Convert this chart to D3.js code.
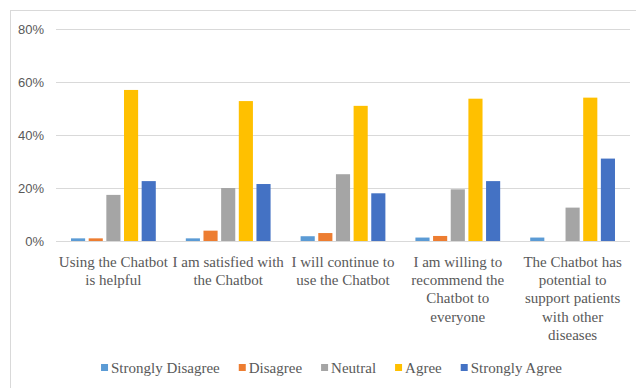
<!DOCTYPE html>
<html lang="en">
<head>
<meta charset="UTF-8">
<title>Chatbot satisfaction</title>
<script src="https://cdn.jsdelivr.net/npm/d3@7/dist/d3.min.js"></script>
<style>
  body { margin: 0; background: #fff; }
  svg { display: block; }
  .tick-y { font: 13px 'Liberation Sans', Arial, sans-serif; fill: #595959; }
  .cat { font: 15px 'Liberation Serif', 'Times New Roman', serif; fill: #595959; }
  .leg { font: 15px 'Liberation Serif', 'Times New Roman', serif; fill: #595959; }
</style>
</head>
<body>
<div id="chart"></div>
<script>
// categories (wrapped as in the original chart)
const categories = [
  ["Using the Chatbot", "is helpful"],
  ["I am satisfied with", "the Chatbot"],
  ["I will continue to", "use the Chatbot"],
  ["I am willing to", "recommend the", "Chatbot to", "everyone"],
  ["The Chatbot has", "potential to", "support patients", "with other", "diseases"]
];
const seriesNames = ["Strongly Disagree", "Disagree", "Neutral", "Agree", "Strongly Agree"];
const seriesColors = ["#5B9BD5", "#ED7D31", "#A5A5A5", "#FFC000", "#4472C4"];

// values per series, one per category
const stronglyDisagree = [0.010, 0.010, 0.018, 0.013, 0.013];
const disagree         = [0.010, 0.039, 0.030, 0.019, 0.000];
const neutral          = [0.174, 0.200, 0.252, 0.195, 0.126];
const agree            = [0.570, 0.528, 0.510, 0.537, 0.541];
const stronglyAgree    = [0.226, 0.215, 0.180, 0.226, 0.311];
const seriesValues = [stronglyDisagree, disagree, neutral, agree, stronglyAgree];

const yTicks = [0, 0.2, 0.4, 0.6, 0.8];

const W = 636, H = 388;
const svg = d3.select("#chart").append("svg").attr("width", W).attr("height", H);

// chart frame
svg.append("rect")
  .attr("x", 10.5).attr("y", 10.5)
  .attr("width", 640).attr("height", 400)
  .attr("fill", "#fff").attr("stroke", "#d9d9d9");

const x0 = d3.scaleBand().domain(d3.range(categories.length)).range([56, 630]);
const x1 = d3.scaleBand().domain(d3.range(seriesNames.length))
  .range([0, x0.bandwidth()]).paddingInner(0.2).paddingOuter(0.85);
const y = d3.scaleLinear().domain([0, 0.8]).range([241, 29]);

// gridlines
svg.append("g").selectAll("line")
  .data(yTicks)
  .join("line")
  .attr("x1", 56).attr("x2", 630)
  .attr("y1", d => Math.round(y(d)) + 0.5).attr("y2", d => Math.round(y(d)) + 0.5)
  .attr("stroke", "#d9d9d9").attr("stroke-width", 1);

svg.append("g").selectAll("text")
  .data(yTicks)
  .join("text")
  .attr("class", "tick-y")
  .attr("x", 44).attr("y", d => y(d))
  .attr("dy", "0.35em")
  .attr("text-anchor", "end")
  .text(d3.format(".0%"));

// bars
const groups = svg.append("g").selectAll("g")
  .data(categories.map((c, i) => i))
  .join("g")
  .attr("transform", i => `translate(${x0(i)},0)`);

groups.selectAll("rect")
  .data(i => seriesValues.map((vals, s) => ({ s, v: vals[i] })))
  .join("rect")
  .attr("x", d => x1(d.s))
  .attr("width", x1.bandwidth())
  .attr("y", d => y(d.v))
  .attr("height", d => y(0) - y(d.v))
  .attr("fill", d => seriesColors[d.s]);

// category labels
const catText = svg.append("g").selectAll("text")
  .data(categories)
  .join("text")
  .attr("class", "cat")
  .attr("text-anchor", "middle")
  .attr("x", (d, i) => x0(i) + x0.bandwidth() / 2)
  .attr("y", 267);
catText.selectAll("tspan")
  .data(d => d)
  .join("tspan")
  .attr("x", function () { return this.parentNode.getAttribute("x"); })
  .attr("dy", (d, j) => j === 0 ? 0 : 18.2)
  .text(d => d);

// legend - laid out from measured text widths, centred
const legG = svg.append("g").attr("transform", "translate(0,368)");
const items = legG.selectAll("g")
  .data(seriesNames)
  .join("g");
items.append("rect")
  .attr("x", 0).attr("y", -4).attr("width", 7).attr("height", 7)
  .attr("fill", (d, i) => seriesColors[i]);
items.append("text")
  .attr("class", "leg")
  .attr("x", 10).attr("dy", "0.35em")
  .text(d => d);
let cx = 0;
const offs = [];
items.each(function () {
  const w = this.querySelector("text").getComputedTextLength();
  offs.push(cx);
  cx += 10 + w + 19;
});
const total = cx - 19;
const startX = 331.5 - total / 2;
items.attr("transform", (d, i) => `translate(${startX + offs[i]},0)`);
</script>
</body>
</html>
